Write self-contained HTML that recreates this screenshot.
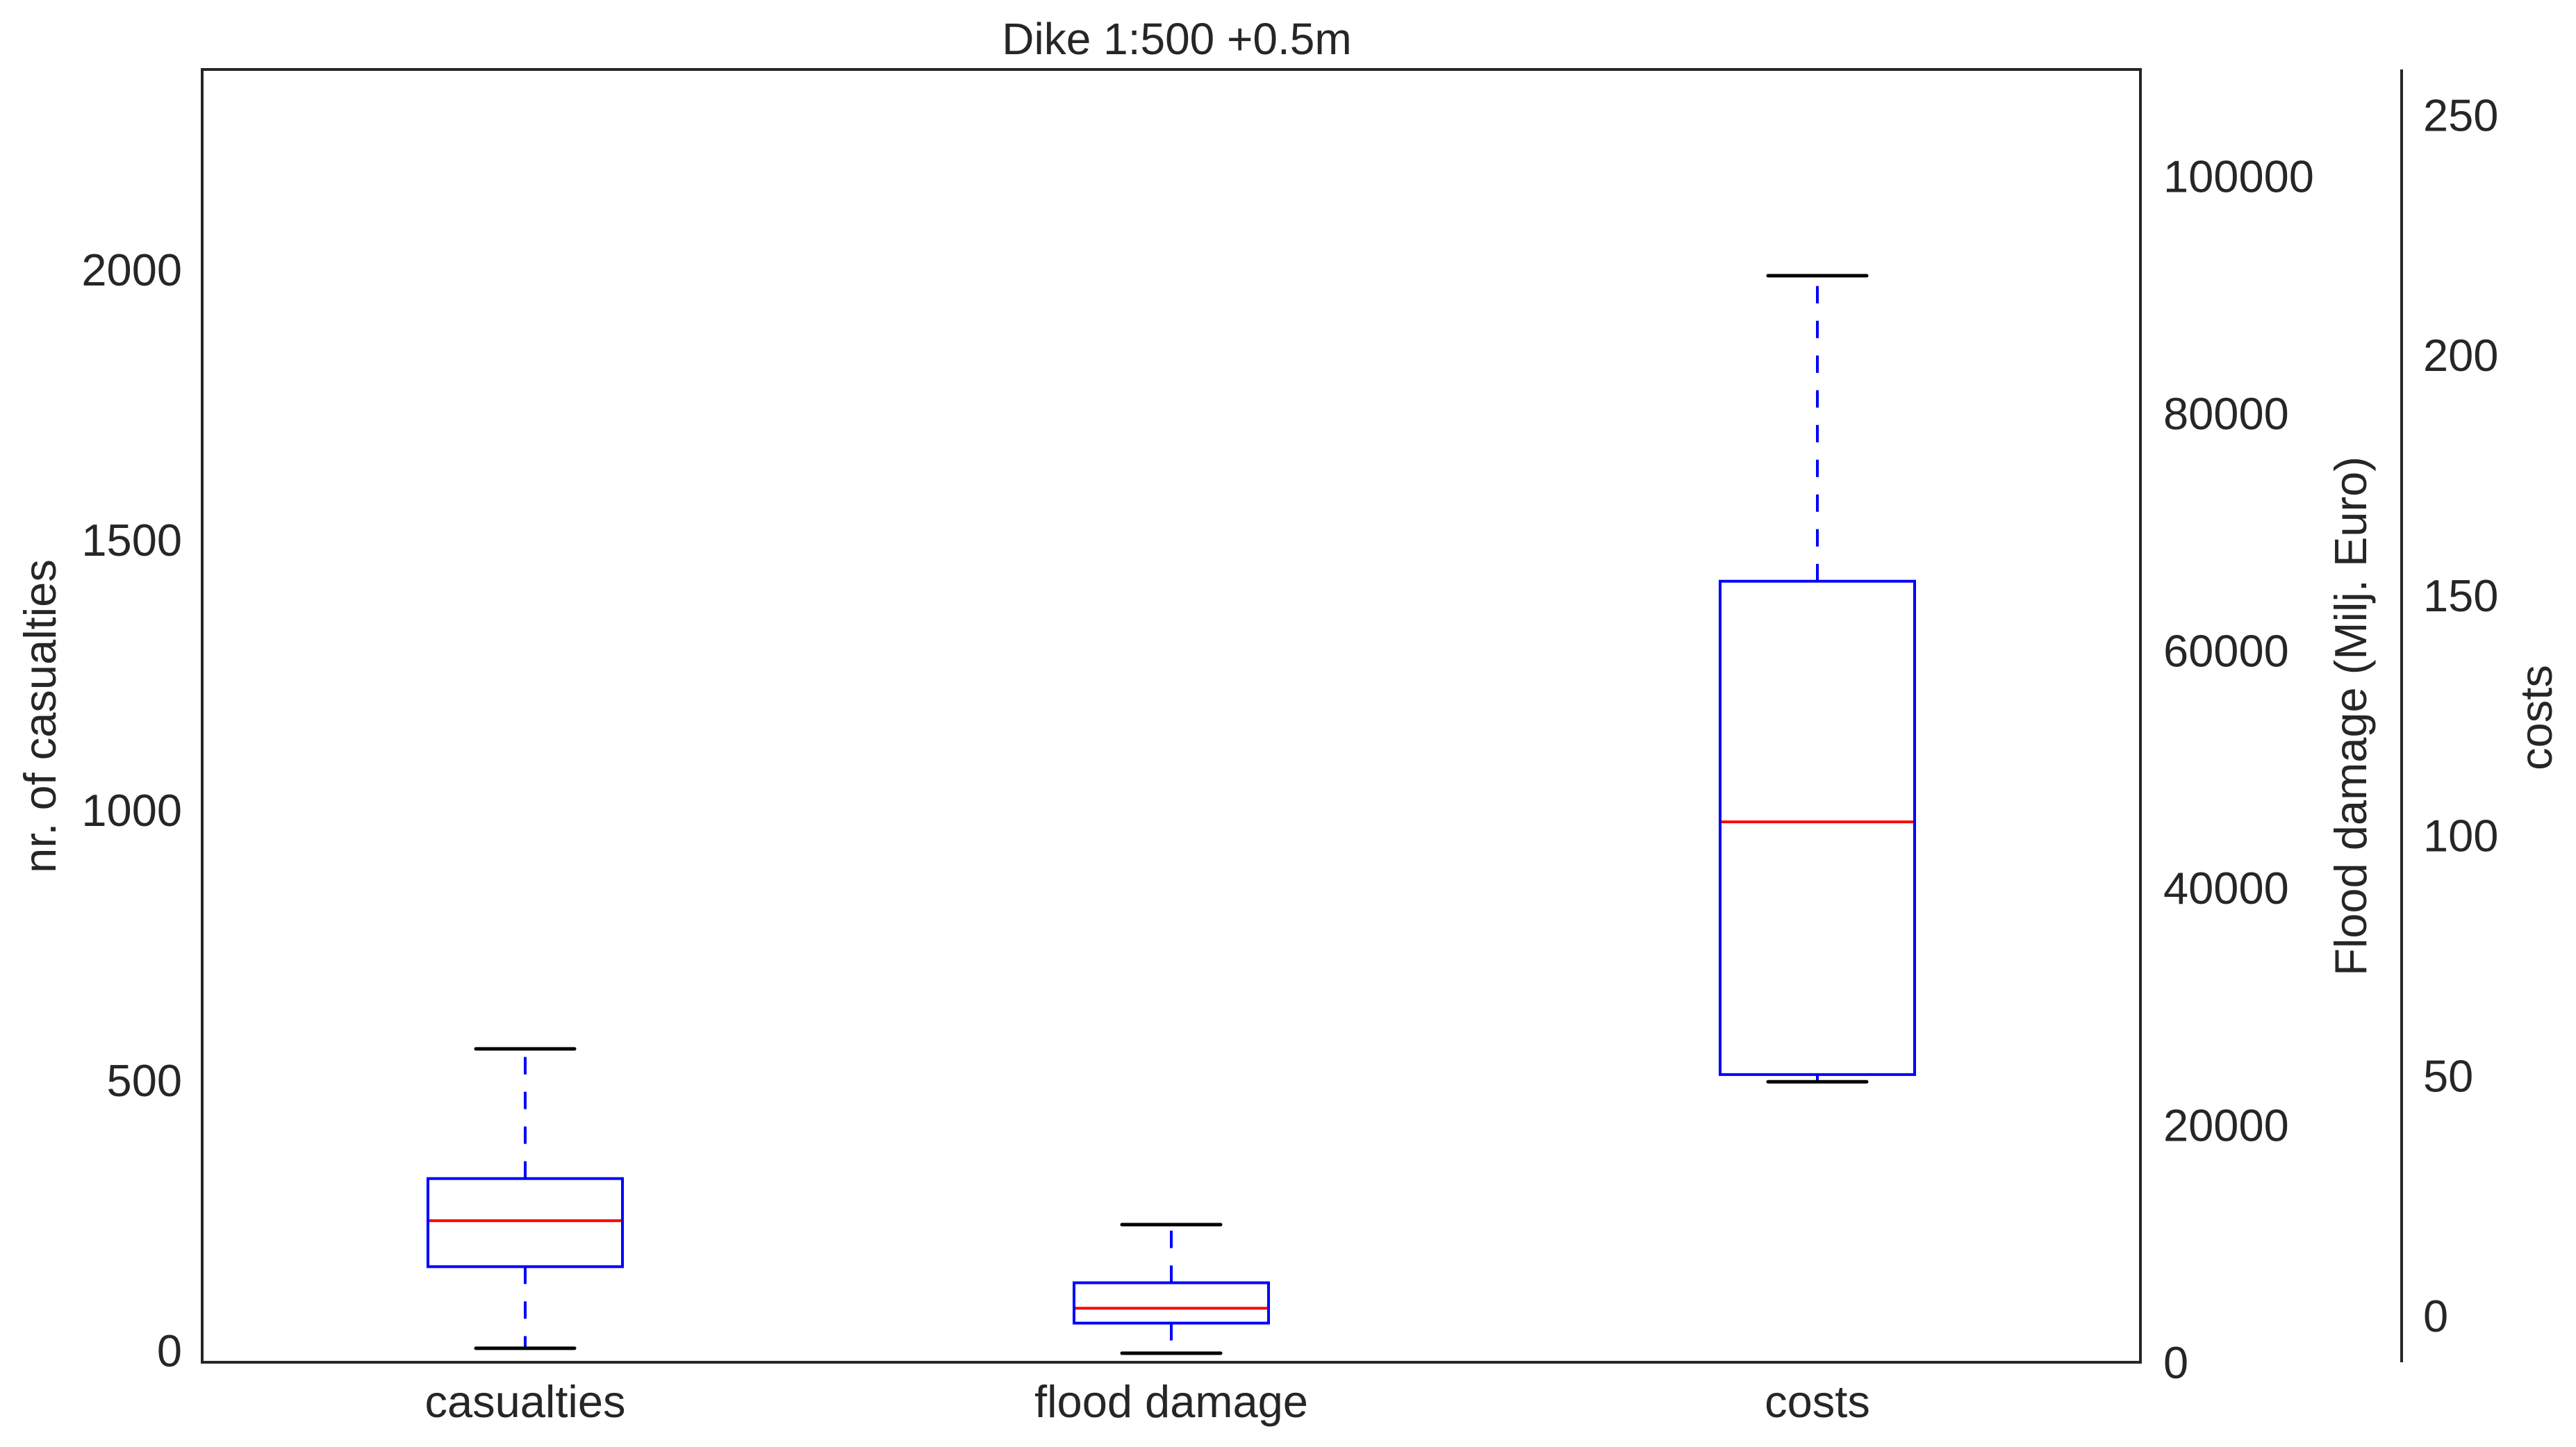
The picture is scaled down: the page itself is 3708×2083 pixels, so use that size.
<!DOCTYPE html>
<html><head><meta charset="utf-8"><style>
html,body{margin:0;padding:0;background:#fff;}
svg{display:block;}
text{font-family:"Liberation Sans",Arial,sans-serif;fill:#262626;}
</style></head><body>
<svg id="chart" width="3708" height="2083" viewBox="0 0 3708 2083" xmlns="http://www.w3.org/2000/svg">
<text x="1694" y="78" font-size="64" text-anchor="middle">Dike 1:500 +0.5m</text>
<g id="marks"></g>
<rect x="291" y="100" width="2790" height="1861" fill="none" stroke="#262626" stroke-width="4"/>
<line x1="3457" y1="100" x2="3457" y2="1961" stroke="#262626" stroke-width="4"/>
<g id="ticks"></g>
<text transform="translate(80,1031) rotate(-90)" font-size="65" text-anchor="middle">nr. of casualties</text>
<text transform="translate(3406,1031) rotate(-90)" font-size="65" text-anchor="middle">Flood damage (Milj. Euro)</text>
<text transform="translate(3673,1033) rotate(-90)" font-size="65" text-anchor="middle">costs</text>
</svg>
<script>
const categories = ["casualties", "flood damage", "costs"];
const whiskerLow = [4, 760, 48.7];
const q1Values = [155, 3300, 50.2];
const medianValues = [240, 4550, 102.8];
const q3Values = [318, 6700, 152.9];
const whiskerHigh = [558, 11600, 216.5];
const casualtyTicks = [0, 500, 1000, 1500, 2000];
const floodTicks = [0, 20000, 40000, 60000, 80000, 100000];
const costTicks = [0, 50, 100, 150, 200, 250];

const NS = "http://www.w3.org/2000/svg";
const plotL = 291, plotR = 3081, plotT = 100, plotB = 1961;
function yCas(v){ return 1944 - v * 0.778; }
function yFlood(v){ return 1961 - v * 0.017076; }
function yCost(v){ return 1894 - v * 6.915; }
const scales = [yCas, yFlood, yCost];
function xCat(i){ return plotL + (plotR - plotL) / categories.length * (i + 0.5); }

function mk(tag, attrs, parent){
  const el = document.createElementNS(NS, tag);
  for (const k in attrs) el.setAttribute(k, attrs[k]);
  parent.appendChild(el);
  return el;
}
const marks = document.getElementById("marks");
const ticks = document.getElementById("ticks");
const boxW = 280, capW = 142;

categories.forEach((c, i) => {
  const y = scales[i], cx = xCat(i);
  const g = mk("g", {}, marks);
  
  
  const yq1 = y(q1Values[i]), yq3 = y(q3Values[i]), ym = y(medianValues[i]);
  const ylo = y(whiskerLow[i]), yhi = y(whiskerHigh[i]);
  const wu = mk("line", {x1:cx, y1:yq3, x2:cx, y2:yhi, stroke:"#0000ff", "stroke-width":4, "stroke-dasharray":"25 25"}, g);
  
  
  const wl = mk("line", {x1:cx, y1:yq1, x2:cx, y2:ylo, stroke:"#0000ff", "stroke-width":4, "stroke-dasharray":"25 25"}, g);
  
  
  const capHi = mk("line", {x1:cx-capW/2, y1:yhi, x2:cx+capW/2, y2:yhi, stroke:"#000", "stroke-width":5, "stroke-linecap":"round"}, g);
  
  
  const capLo = mk("line", {x1:cx-capW/2, y1:ylo, x2:cx+capW/2, y2:ylo, stroke:"#000", "stroke-width":5, "stroke-linecap":"round"}, g);
  
  
  const box = mk("rect", {x:cx-boxW/2, y:yq3, width:boxW, height:yq1-yq3, fill:"none", stroke:"#0000ff", "stroke-width":4}, g);
  
  
  const med = mk("line", {x1:cx-boxW/2+2, y1:ym, x2:cx+boxW/2-2, y2:ym, stroke:"#ff0000", "stroke-width":4}, g);
  
  
  const lbl = mk("text", {x:cx, y:2040, "font-size":65, "text-anchor":"middle"}, ticks);
  lbl.textContent = c;
  
  
});

casualtyTicks.forEach(v => {
  const t = mk("text", {x:262, y:yCas(v)+23, "font-size":65, "text-anchor":"end"}, ticks);
  t.textContent = v;
  
  
});
floodTicks.forEach(v => {
  const t = mk("text", {x:3114, y:yFlood(v)+23, "font-size":65}, ticks);
  t.textContent = v;
  
  
});
costTicks.forEach(v => {
  const t = mk("text", {x:3488, y:yCost(v)+23, "font-size":65}, ticks);
  t.textContent = v;
  
  
});
</script>
</body></html>
